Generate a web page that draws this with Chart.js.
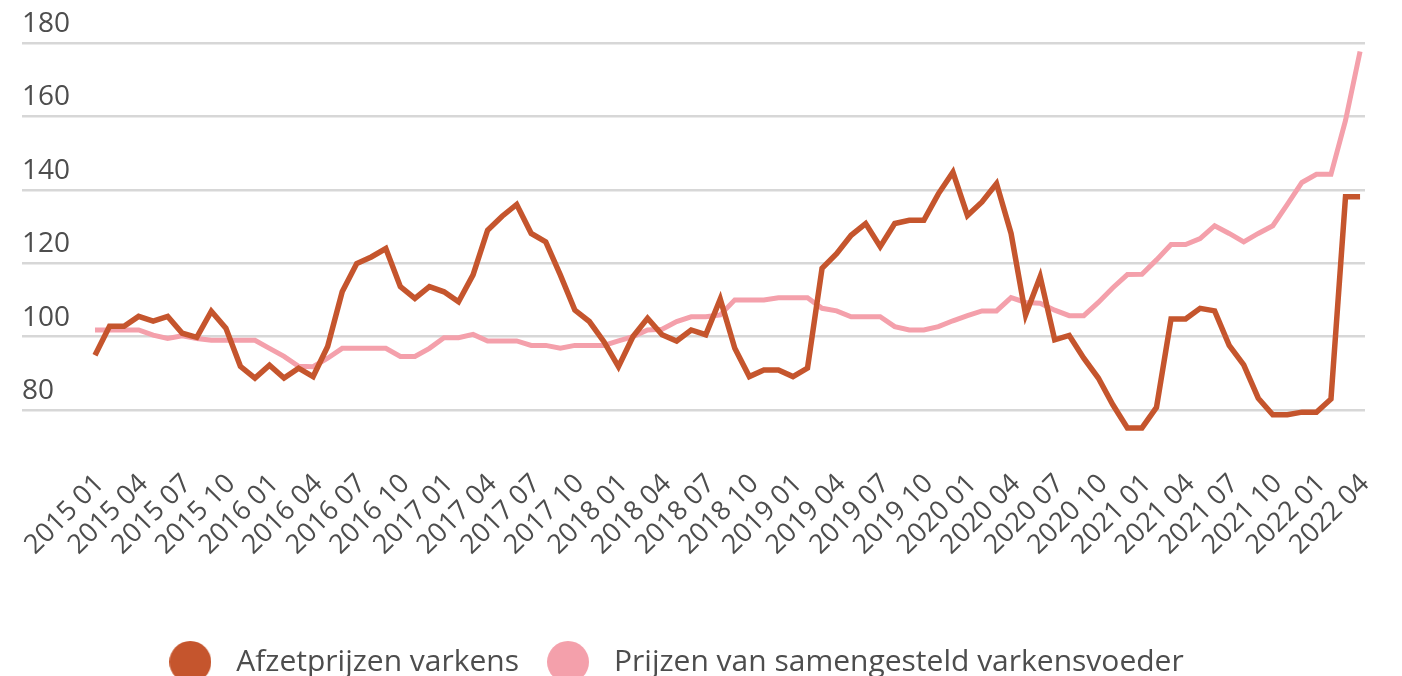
<!DOCTYPE html>
<html>
<head>
<meta charset="utf-8">
<script src="https://cdn.jsdelivr.net/npm/chart.js@4"></script>
<style>
  html, body { margin: 0; padding: 0; background: #fff; overflow: hidden; }
  #wrap { width: 1402px; height: 687px; position: relative; }
</style>
</head>
<body>
<div id="wrap"><canvas id="chart"></canvas></div>
<script>
// tick labels on the x axis (every third month, 2015 01 .. 2022 04)
const tickLabels = [
  "2015 01", "2015 04", "2015 07", "2015 10",
  "2016 01", "2016 04", "2016 07", "2016 10",
  "2017 01", "2017 04", "2017 07", "2017 10",
  "2018 01", "2018 04", "2018 07", "2018 10",
  "2019 01", "2019 04", "2019 07", "2019 10",
  "2020 01", "2020 04", "2020 07", "2020 10",
  "2021 01", "2021 04", "2021 07", "2021 10",
  "2022 01", "2022 04"
];

const seriesNames = ["Afzetprijzen varkens", "Prijzen van samengesteld varkensvoeder"];

// monthly index values, 2015 01 .. 2022 04
const afzetprijzen = [
  94.9, 102.8, 102.8, 105.5, 104.2, 105.5, 100.9, 99.8, 106.9, 102.3, 91.9, 88.7,
  92.2, 88.7, 91.4, 89.1, 97.3, 112.2, 119.9, 121.7, 124.0, 113.6, 110.4, 113.6,
  112.2, 109.5, 116.8, 129.0, 132.8, 136.0, 128.1, 125.8, 116.8, 107.2, 104.1, 98.6,
  91.8, 100.0, 105.0, 100.5, 98.8, 101.8, 100.5, 110.2, 96.8, 89.1, 90.9, 90.9,
  89.1, 91.4, 118.6, 122.6, 127.6, 130.8, 124.5, 130.8, 131.7, 131.7, 138.9, 144.8,
  133.0, 136.7, 141.7, 128.1, 105.9, 116.3, 99.1, 100.3, 94.1, 88.7, 81.4, 75.1,
  75.1, 80.7, 104.8, 104.8, 107.7, 107.0, 97.6, 92.3, 83.2, 78.7, 78.7, 79.4,
  79.4, 83.0, 138.1, 138.1
];

const voederprijzen = [
  101.8, 101.8, 101.8, 101.8, 100.4, 99.5, 100.2, 99.5, 99.0, 99.0, 99.0, 99.0,
  96.8, 94.6, 91.9, 91.8, 94.1, 96.8, 96.8, 96.8, 96.8, 94.6, 94.6, 96.8,
  99.7, 99.7, 100.6, 98.8, 98.8, 98.8, 97.6, 97.6, 96.8, 97.6, 97.6, 97.6,
  98.8, 100.0, 101.8, 102.0, 104.1, 105.4, 105.4, 105.9, 110.0, 110.0, 110.0, 110.6,
  110.6, 110.6, 107.7, 107.0, 105.4, 105.4, 105.4, 102.7, 101.8, 101.8, 102.7, 104.3,
  105.7, 107.0, 107.0, 110.6, 109.3, 109.1, 107.2, 105.7, 105.7, 109.3, 113.3, 116.9,
  117.0, 120.9, 125.1, 125.1, 126.7, 130.2, 128.1, 125.8, 128.1, 130.2, 136.0, 142.0,
  144.2, 144.2, 158.9, 177.7
];

const yTicks = [80, 100, 120, 140, 160, 180];

const ORANGE = "#c5552d";
const PINK = "#f4a0ab";
const TEXT = "#4d4d4d";

// round legend markers, drawn a bit wider apart than the default box
function dot(color) {
  const c = document.createElement("canvas");
  c.width = 42;
  c.height = 42;
  const g = c.getContext("2d");
  g.fillStyle = color;
  g.beginPath();
  g.arc(21, 21, 21, 0, Math.PI * 2);
  g.fill();
  return c;
}

// the legend sits a little left of centre in the original
const legendShift = {
  id: "legendShift",
  afterLayout(chart) {
    chart.legend.left -= 22;
    chart.legend.right -= 22;
  },
};

Chart.defaults.font.family = "'Open Sans', Lato, sans-serif";
Chart.defaults.color = TEXT;

const toPoints = (arr) => arr.map((v, i) => ({ x: i, y: v }));

new Chart(document.getElementById("chart"), {
  type: "line",
  plugins: [legendShift],
  data: {
    datasets: [
      {
        label: seriesNames[0],
        data: toPoints(afzetprijzen),
        borderColor: ORANGE,
        backgroundColor: ORANGE,
        borderWidth: 5.5,
        pointRadius: 0,
        pointStyle: dot(ORANGE),
        tension: 0,
      },
      {
        label: seriesNames[1],
        data: toPoints(voederprijzen),
        borderColor: PINK,
        backgroundColor: PINK,
        borderWidth: 5,
        pointRadius: 0,
        pointStyle: dot(PINK),
        tension: 0,
      },
    ],
  },
  options: {
    responsive: true,
    maintainAspectRatio: false,
    animation: false,
    layout: {
      padding: { left: 22, right: 37, top: 43, bottom: 0 },
    },
    plugins: {
      tooltip: { enabled: false },
      legend: {
        display: true,
        position: "bottom",
        labels: {
          usePointStyle: true,
          pointStyleWidth: 62,
          boxHeight: 28,
          padding: 18,
          color: TEXT,
          font: { size: 30 },
        },
      },
    },
    scales: {
      x: {
        type: "linear",
        min: -5.02,
        max: 87.34,
        grid: { display: false },
        border: { display: false },
        afterBuildTicks: (scale) => {
          scale.ticks = tickLabels.map((_, k) => ({ value: k * 3 }));
        },
        afterFit: (scale) => {
          scale.height = 175;
        },
        ticks: {
          autoSkip: false,
          minRotation: 45,
          maxRotation: 45,
          padding: 6,
          labelOffset: 5,
          color: TEXT,
          font: { size: 27 },
          callback: (value) => tickLabels[Math.round(value / 3)],
        },
      },
      y: {
        min: 68,
        max: 180,
        border: { display: false },
        grid: {
          color: "#d7d7d7",
          lineWidth: 2.5,
          drawTicks: false,
        },
        afterBuildTicks: (scale) => {
          scale.ticks = yTicks.map((v) => ({ value: v }));
        },
        ticks: {
          mirror: true,
          padding: 0,
          labelOffset: -19,
          color: TEXT,
          font: { size: 28 },
        },
      },
    },
  },
});
</script>
</body>
</html>
